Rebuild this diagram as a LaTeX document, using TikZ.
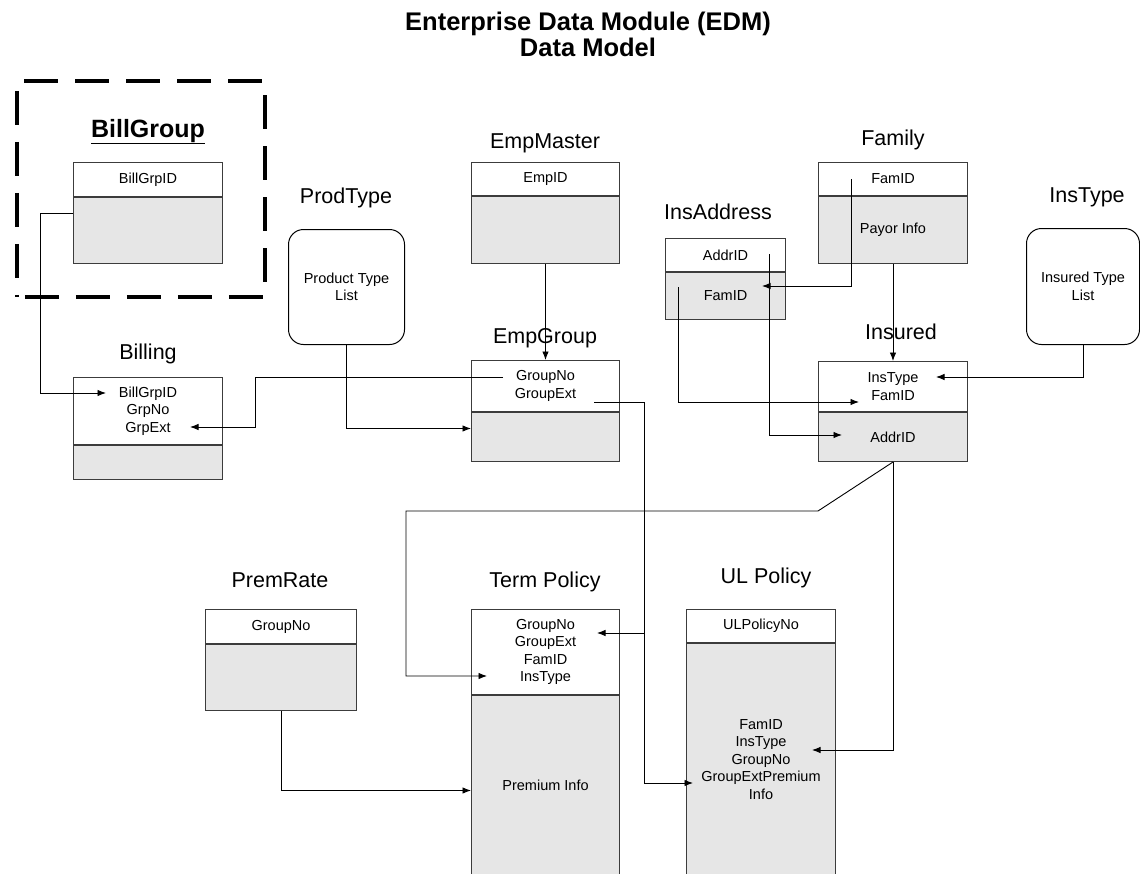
\documentclass[tikz,border=0pt]{standalone}
\usepackage{fontspec}
\setmainfont{Liberation Sans}
\usepackage{tikz}
\usetikzlibrary{arrows.meta,positioning,calc}
\definecolor{cellgray}{HTML}{E6E6E6}
\definecolor{linegray}{HTML}{3C3C3C}

\begin{document}
\begin{tikzpicture}[
    x=1pt, y=-1pt,
    >={Latex[length=8.5pt,width=6.5pt]},
    % table parts and labels
    head/.style={draw=linegray, line width=1pt, rectangle, fill=white, align=center, inner sep=0pt, font=\fontsize{14.5}{17.5}\selectfont},
    body/.style={head, fill=cellgray},
    listbox/.style={draw=black, line width=1pt, rectangle, rounded corners=15pt, fill=white, align=center, inner sep=0pt, font=\fontsize{14.5}{17.5}\selectfont},
    tname/.style={anchor=base, font=\fontsize{21.5}{24}\selectfont},
    line/.style={draw, ->, line width=0.9pt}
]

    \clip (0,0) rectangle (1140,873);
    \fill[white] (0,0) rectangle (1140,873);

    % --- 1. Nodes ---

    % Title
    \node[font=\bfseries\fontsize{25.5}{26}\selectfont, align=center] (title) at (588,34) {Enterprise Data Module (EDM)\\Data Model};

    % BillGroup (dashed frame)
    \node[draw, line width=3.5pt, dash pattern=on 34pt off 17pt, dash phase=-8pt, minimum width=248pt, minimum height=216pt, anchor=north west, inner sep=0pt] (billframe) at (15,79) {};
    \node[anchor=base, font=\bfseries\fontsize{25}{28}\selectfont] (billgrplbl) at (148,137) {\underline{BillGroup}};
    \node[head, minimum width=149pt, minimum height=34pt, anchor=north west] (billgrp) at (73,162) {BillGrpID};
    \node[body, minimum width=149pt, minimum height=66pt, below=0pt of billgrp] (billgrpb) {};

    % Billing
    \node[tname] (billinglbl) at (148,359) {Billing};
    \node[head, minimum width=149pt, minimum height=67pt, anchor=north west] (billing) at (73,377) {BillGrpID\\GrpNo\\GrpExt};
    \node[body, minimum width=149pt, minimum height=34pt, below=0pt of billing] (billingb) {};

    % ProdType
    \node[tname] (prodtypelbl) at (346,203) {ProdType};
    \node[listbox, minimum width=116pt, minimum height=115pt, anchor=north west] (prodtype) at (288,229) {Product Type\\List};

    % EmpMaster
    \node[tname] (empmasterlbl) at (545,148) {EmpMaster};
    \node[head, minimum width=148pt, minimum height=33pt, anchor=north west] (empmaster) at (471,162) {EmpID};
    \node[body, minimum width=148pt, minimum height=67pt, below=0pt of empmaster] (empmasterb) {};

    % EmpGroup
    \node[tname] (empgrouplbl) at (545,343) {EmpGroup};
    \node[head, minimum width=148pt, minimum height=51pt, anchor=north west] (empgroup) at (471,360) {GroupNo\\GroupExt};
    \node[body, minimum width=148pt, minimum height=49pt, below=0pt of empgroup] (empgroupb) {};

    % InsAddress
    \node[tname] (insaddrlbl) at (718,219) {InsAddress};
    \node[head, minimum width=120pt, minimum height=33pt, anchor=north west] (insaddr) at (665,238) {AddrID};
    \node[body, minimum width=120pt, minimum height=47pt, below=0pt of insaddr] (insaddrb) {FamID};

    % Family
    \node[tname] (familylbl) at (893,145) {Family};
    \node[head, minimum width=149pt, minimum height=33pt, anchor=north west] (family) at (818,162) {FamID};
    \node[body, minimum width=149pt, minimum height=67pt, below=0pt of family] (familyb) {Payor Info};

    % InsType
    \node[tname] (instypelbl) at (1087,202) {InsType};
    \node[listbox, minimum width=113pt, minimum height=116pt, anchor=north west] (instype) at (1026,228) {Insured Type\\List};

    % Insured
    \node[tname] (insuredlbl) at (901,339) {Insured};
    \node[head, minimum width=149pt, minimum height=50pt, anchor=north west] (insured) at (818,361) {InsType\\FamID};
    \node[body, minimum width=149pt, minimum height=49pt, below=0pt of insured] (insuredb) {AddrID};

    % PremRate
    \node[tname] (premratelbl) at (280,587) {PremRate};
    \node[head, minimum width=151pt, minimum height=34pt, anchor=north west] (premrate) at (205,609) {GroupNo};
    \node[body, minimum width=151pt, minimum height=66pt, below=0pt of premrate] (premrateb) {};

    % Term Policy
    \node[tname] (termpollbl) at (545,587) {Term Policy};
    \node[head, minimum width=148pt, minimum height=85pt, anchor=north west] (termpol) at (471,609) {GroupNo\\GroupExt\\FamID\\InsType};
    \node[body, minimum width=148pt, minimum height=180pt, below=0pt of termpol] (termpolb) {Premium Info};

    % UL Policy
    \node[tname] (ulpollbl) at (766,583) {UL Policy};
    \node[head, minimum width=149pt, minimum height=33pt, anchor=north west] (ulpol) at (686,609) {ULPolicyNo};
    \node[body, minimum width=149pt, minimum height=232pt, below=0pt of ulpol] (ulpolb) {FamID\\InsType\\GroupNo\\GroupExtPremium\\Info};

    % free ends of the key links
    \coordinate (bgin) at (106,393);
    \coordinate (egno) at (503,377);
    \coordinate (grpextin) at (190,427);
    \coordinate (egext) at (594,402);
    \coordinate (extjoin) at (644,633);
    \coordinate (tpgrpin) at (597,633);
    \coordinate (ulextin) at (693,783);
    \coordinate (famidout) at (851,179);
    \coordinate (iafamin) at (762,286);
    \coordinate (insin) at (936,377);
    \coordinate (iaaddrout) at (769,254);
    \coordinate (insaddrin) at (842,435);
    \coordinate (iafamout) at (678,287);
    \coordinate (insfamin) at (859,402);
    \coordinate (tpfamin) at (487,676);
    \coordinate (ulinsin) at (812,750);

    % --- 2. Paths ---

    % BillGroup -> Billing
    \draw[line] ($(billgrpb.west)+(0,-17)$) -- ++(-33,0) |- (bgin);

    % EmpGroup -> Billing
    \draw[line] (egno) -- ++(-248,0) |- (grpextin);

    % ProdType -> EmpGroup
    \draw[line] (prodtype.south) |- ($(empgroupb.west)+(0,-8.5)$);

    % EmpMaster -> EmpGroup
    \draw[line] (empmasterb.south) -- (empgroup.north);

    % EmpGroup -> Term Policy, UL Policy
    \draw[line] (egext) -- ++(50,0) |- (ulextin);
    \draw[line] (extjoin) -- (tpgrpin);

    % Family -> InsAddress, Insured
    \draw[line] (famidout) |- (iafamin);
    \draw[line] (familyb.south) -- (insured.north);

    % InsType -> Insured
    \draw[line] (instype.south) |- (insin);

    % InsAddress -> Insured
    \draw[line] (iaaddrout) |- (insaddrin);
    \draw[line] (iafamout) |- (insfamin);

    % Insured -> Term Policy, UL Policy
    \draw[line] (insuredb.south) -- ($(insuredb.south west)+(0,49)$) -- ++(-412,0) |- (tpfamin);
    \draw[line] (insuredb.south) |- (ulinsin);

    % PremRate -> Term Policy
    \draw[line] (premrateb.south) |- ($(termpolb.west)+(0,5)$);

\end{tikzpicture}
\end{document}
